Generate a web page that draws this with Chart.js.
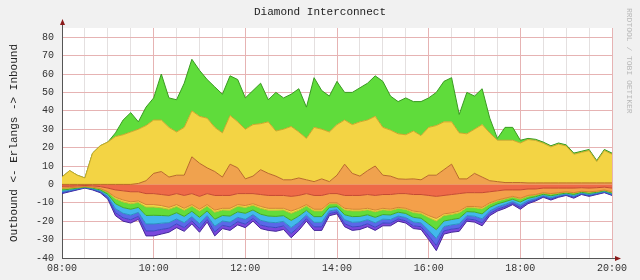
<!DOCTYPE html>
<html>
<head>
<meta charset="utf-8">
<title>Diamond Interconnect</title>
<script src="https://cdn.jsdelivr.net/npm/chart.js@4/dist/chart.umd.min.js"></script>
<style>
  html, body { margin: 0; padding: 0; background: #f1f1f1; }
  canvas { display: block; }
</style>
</head>
<body>
<canvas id="erlangChart" width="640" height="280"></canvas>
<script>
// sample times, every 10 minutes
var times = ['08:00','08:10','08:20','08:30','08:40','08:50','09:00','09:10','09:20','09:30','09:40','09:50',
  '10:00','10:10','10:20','10:30','10:40','10:50','11:00','11:10','11:20','11:30','11:40','11:50',
  '12:00','12:10','12:20','12:30','12:40','12:50','13:00','13:10','13:20','13:30','13:40','13:50',
  '14:00','14:10','14:20','14:30','14:40','14:50','15:00','15:10','15:20','15:30','15:40','15:50',
  '16:00','16:10','16:20','16:30','16:40','16:50','17:00','17:10','17:20','17:30','17:40','17:50',
  '18:00','18:10','18:20','18:30','18:40','18:50','19:00','19:10','19:20','19:30','19:40','19:50','20:00'];

// inbound layers (thickness of each stacked band)
var inOrange = [0,0,0,0,0,0,0,0,0,0,0.5,2,6,7,4,5,5,15,11.5,9,7,4,11,9,3,4.5,8,6,4.5,2.5,2.5,3.5,2.5,1.5,3,1.5,
  5,11,6,4.5,7.5,10,5,4.5,3,2.8,3,2.5,5,5,8,11,3,3,6,4,2,1.5,1,1,1,0.8,0.8,0.8,0.8,0.8,0.8,0.8,0.8,0.8,0.8,0.8,0.8];
var inYellow = [4,7.5,5,3.5,17,21,23,26,27,28.5,29.5,30,29,28,27,23.5,26,25,25.5,27,24,24,26.5,25,27,28,25,28,24.5,27.5,29,25,22.5,29.5,27,27,
  27.5,24,26.5,29.5,27.5,27,26,25,24.5,24.2,26,24,26,27,26,23,25,24.5,24,28.5,26,22.5,23,23,21.5,23.6,23.1,21.6,19.6,21.1,20.1,15.6,16.6,17.6,11.6,17.6,15.6];
var inGreen = [0,0,0,0,0,0,0,2,8,10.5,4,10,12,25,16,17.5,24,28,25,21,22,21,21.5,23,17,18.5,22,12,21,17,17.5,23.5,17,27,21,19.5,
  23.5,15,17.5,18.5,20,22,25,18.5,17.5,20,16,18.5,16,18,22,24,10,22.5,18,19.5,8,1,7,7,1.5,0.6,0.6,0.6,0.6,0.6,0.6,0.6,0.6,0.6,0.6,0.6,0.6];

// outbound layers (negative, from zero downwards)
var outRed = [-1,-1,-0.8,-0.6,-0.8,-1.2,-2,-3,-3.5,-4,-4,-5,-5,-5.5,-6,-5,-6,-5,-6.5,-5,-6,-6,-6,-5,-5,-5,-5.5,-6,-6,-6,-6.5,-6,-5,-6,-6,-5,
  -5,-6,-6,-6,-5.5,-6,-5.5,-5.5,-5,-5,-5.5,-5.5,-6,-6.5,-6,-5.5,-5,-4.5,-4.5,-4.5,-4,-3.5,-3,-3,-3,-2.5,-2.5,-2,-2,-2,-2,-2,-1.8,-2,-1.8,-1.5,-2];
var outOrange = [-1,-0.8,-0.7,-0.5,-0.7,-1,-2,-4,-5,-5.5,-5,-6,-6,-6,-6.5,-6,-7,-6,-7,-6,-8,-7,-7,-6,-6.5,-5.5,-6.5,-7,-7,-7,-8,-7,-6,-7.5,-7.5,-5,
  -5,-7,-7.5,-7.5,-7.5,-8,-7.5,-8,-7.5,-8,-9,-9.5,-11,-12,-10,-10,-9.5,-7.5,-7.5,-8,-6,-5,-4.5,-3.5,-4.5,-3.5,-3,-2.5,-3,-2.5,-2,-2.5,-1.9,-2,-1.9,-1.5,-2];
var outYellow = [-0.3,-0.2,-0.1,-0.1,-0.1,-0.2,-0.3,-0.8,-1,-1,-0.8,-1.3,-1.3,-1.2,-1,-1,-1,-0.8,-1,-0.8,-1.1,-0.9,-1,-0.9,-1,-0.8,-1,-1,-1,-0.9,-1.2,-1,-0.7,-0.9,-0.9,-0.6,
  -0.5,-0.8,-0.9,-0.9,-0.8,-0.9,-0.8,-0.7,-0.6,-0.6,-0.8,-0.8,-1,-1.4,-0.9,-0.8,-0.9,-0.6,-0.7,-0.8,-0.6,-0.5,-0.4,-0.4,-0.5,-0.4,-0.3,-0.2,-0.3,-0.2,-0.2,-0.2,-0.1,-0.2,-0.1,-0.1,-0.2];
var outGreen = [-0.8,-0.6,-0.4,-0.2,-0.4,-0.6,-1.1,-2.7,-3.1,-3,-2.7,-4.6,-4.5,-4.2,-3.6,-3.4,-3.4,-2.8,-3.4,-2.6,-3.8,-3,-3.2,-3,-3.2,-2.6,-3.2,-3.2,-3.4,-3.1,-3.9,-3.2,-2.4,-3.1,-3.1,-1.9,
  -1.6,-2.7,-3.1,-3,-2.7,-3,-2.6,-2.4,-2,-2.2,-2.6,-2.6,-3.5,-4.7,-3,-2.8,-3,-2.2,-2.3,-2.7,-1.9,-1.6,-1.5,-1.2,-1.6,-1.2,-0.9,-0.7,-0.9,-0.7,-0.5,-0.8,-0.5,-0.7,-0.5,-0.4,-0.5];
var outCyan = [-0.8,-0.6,-0.4,-0.2,-0.4,-0.6,-1.1,-2.7,-3.1,-3.2,-2.7,-4.6,-4.7,-4.2,-3.7,-3.4,-3.4,-2.9,-3.4,-2.5,-3.8,-3,-3.3,-3,-3.3,-2.5,-3.3,-3.3,-3.4,-3.1,-3.9,-3.3,-2.5,-3.1,-3.1,-1.9,
  -1.6,-2.7,-3.1,-3,-2.7,-3,-2.5,-2.5,-2.1,-2.2,-2.5,-2.5,-3.5,-4.8,-3,-2.9,-3,-2.2,-2.3,-2.7,-1.9,-1.6,-1.5,-1.2,-1.6,-1.2,-1,-0.7,-1,-0.7,-0.6,-0.8,-0.5,-0.7,-0.5,-0.4,-0.6];
var outBlue = [-0.6,-0.5,-0.3,-0.2,-0.3,-0.5,-0.9,-2.2,-2.5,-2.5,-2.2,-3.8,-3.8,-3.4,-3,-2.7,-2.7,-2.3,-2.7,-2.1,-3.1,-2.4,-2.6,-2.4,-2.6,-2.1,-2.6,-2.6,-2.7,-2.5,-3.2,-2.6,-2,-2.5,-2.5,-1.5,
  -1.3,-2.2,-2.5,-2.4,-2.2,-2.4,-2.1,-2,-1.6,-1.8,-2.1,-2.1,-2.9,-3.8,-2.4,-2.3,-2.4,-1.8,-1.9,-2.2,-1.5,-1.3,-1.2,-1,-1.3,-1,-0.8,-0.5,-0.8,-0.5,-0.4,-0.7,-0.4,-0.5,-0.4,-0.3,-0.4];
var outPurple = [-0.5,-0.3,-0.3,-0.2,-0.3,-0.4,-0.6,-1.6,-1.8,-1.8,-1.6,-2.7,-2.7,-2.5,-2.2,-2,-2,-1.7,-2,-1.5,-2.2,-1.7,-1.9,-1.7,-1.9,-1.5,-1.9,-1.9,-2,-1.9,-2.3,-1.9,-1.4,-1.9,-1.9,-1.1,
  -1,-1.6,-1.9,-1.7,-1.6,-1.7,-1.5,-1.4,-1.2,-1.2,-1.5,-1.5,-2.1,-2.8,-1.7,-1.7,-1.7,-1.2,-1.3,-1.6,-1.1,-1,-0.9,-0.7,-1,-0.7,-0.5,-0.4,-0.5,-0.4,-0.3,-0.5,-0.3,-0.4,-0.3,-0.3,-0.3];

var yTicksShown = [-40, -30, -20, -10, 0, 10, 20, 30, 40, 50, 60, 70, 80];

function band(label, data, stack, fill, bg, line) {
    return {
        label: label,
        data: data,
        stack: stack,
        fill: fill,
        backgroundColor: bg,
        borderColor: line,
        borderWidth: 1,
        pointRadius: 0,
        tension: 0
    };
}

var monoFont = '"Liberation Mono", "DejaVu Sans Mono", monospace';

// title, axis label, arrows and the side text, drawn rrdtool-style
var rrdDecor = {
    id: 'rrdDecor',
    beforeDraw: function(chart) {
        var a = chart.chartArea, c = chart.ctx;
        c.save();
        c.fillStyle = '#ffffff';
        c.fillRect(a.left, a.top, a.right - a.left, a.bottom - a.top);
        c.restore();
    },
    afterDraw: function(chart) {
        var a = chart.chartArea, c = chart.ctx;
        c.save();
        c.fillStyle = '#222';
        c.font = '11px ' + monoFont;
        c.textAlign = 'center';
        c.textBaseline = 'middle';
        c.fillText('Diamond Interconnect', 320, 12);

        c.translate(14, 143);
        c.rotate(-Math.PI / 2);
        c.fillText('Outbound <- Erlangs -> Inbound', 0, 0);
        c.restore();

        c.save();
        c.fillStyle = '#b8b8b8';
        c.font = '8px ' + monoFont;
        c.translate(629, 8);
        c.rotate(Math.PI / 2);
        c.textBaseline = 'middle';
        c.fillText('RRDTOOL / TOBI OETIKER', 0, 0);
        c.restore();

        // axis arrows
        c.save();
        c.strokeStyle = '#555';
        c.lineWidth = 1;
        c.beginPath();
        c.moveTo(a.left + 0.5, a.top);
        c.lineTo(a.left + 0.5, a.top - 5);
        c.moveTo(a.right, a.bottom + 0.5);
        c.lineTo(a.right + 5, a.bottom + 0.5);
        c.stroke();
        c.fillStyle = '#8b1a1a';
        c.beginPath();
        c.moveTo(a.left + 0.5, a.top - 9);
        c.lineTo(a.left - 2, a.top - 3);
        c.lineTo(a.left + 3, a.top - 3);
        c.closePath();
        c.fill();
        c.beginPath();
        c.moveTo(a.right + 9, a.bottom + 0.5);
        c.lineTo(a.right + 3, a.bottom - 2);
        c.lineTo(a.right + 3, a.bottom + 3);
        c.closePath();
        c.fill();
        c.restore();
    }
};

document.addEventListener('DOMContentLoaded', function() {
    var ctx = document.getElementById('erlangChart').getContext('2d');
    new Chart(ctx, {
        type: 'line',
        data: {
            labels: times,
            datasets: [
                band('In orange', inOrange, 'in', 'origin', '#f0a24e', '#b86a28'),
                band('In yellow', inYellow, 'in', '-1', '#f3d444', '#c9a82a'),
                band('In green', inGreen, 'in', '-1', '#5fdc3b', '#3a9a22'),
                band('Out red', outRed, 'out', 'origin', '#ee6a48', '#c44a30'),
                band('Out orange', outOrange, 'out', '-1', '#f4a04a', '#d28232'),
                band('Out yellow', outYellow, 'out', '-1', '#efdf48', '#c8b830'),
                band('Out green', outGreen, 'out', '-1', '#63dc3a', '#40a828'),
                band('Out cyan', outCyan, 'out', '-1', '#42b8ec', '#2a90c0'),
                band('Out blue', outBlue, 'out', '-1', '#5a68e8', '#3a48c0'),
                band('Out purple', outPurple, 'out', '-1', '#7a48dc', '#45289a')
            ]
        },
        options: {
            responsive: false,
            animation: false,
            layout: { padding: { top: 28, right: 28, bottom: 0, left: 4 } },
            plugins: {
                legend: { display: false },
                tooltip: { enabled: false }
            },
            scales: {
                x: {
                    offset: false,
                    afterFit: function(scale) { scale.height = 22; },
                    border: { display: true, color: '#555' },
                    grid: {
                        drawTicks: false,
                        color: function(c) {
                            if (c.index % 12 === 0) return '#e6b3b3';
                            if (c.index % 3 === 0) return '#e4e0e0';
                            return 'rgba(0,0,0,0)';
                        }
                    },
                    ticks: {
                        autoSkip: false,
                        maxRotation: 0,
                        padding: 4,
                        color: '#333',
                        font: { family: monoFont, size: 10 },
                        callback: function(v, i) { return i % 12 === 0 ? times[i] : ''; }
                    }
                },
                y: {
                    stacked: true,
                    min: -40,
                    max: 85,
                    afterFit: function(scale) { scale.width = 58; },
                    border: { display: true, color: '#555' },
                    grid: {
                        drawTicks: false,
                        color: function(c) {
                            return yTicksShown.indexOf(c.tick.value) >= 0 ? '#e6b3b3' : '#e4e0e0';
                        }
                    },
                    ticks: {
                        stepSize: 5,
                        padding: 8,
                        color: '#333',
                        font: { family: monoFont, size: 10 },
                        callback: function(v) { return yTicksShown.indexOf(v) >= 0 ? v : ''; }
                    }
                }
            }
        },
        plugins: [rrdDecor]
    });
});
</script>
</body>
</html>
